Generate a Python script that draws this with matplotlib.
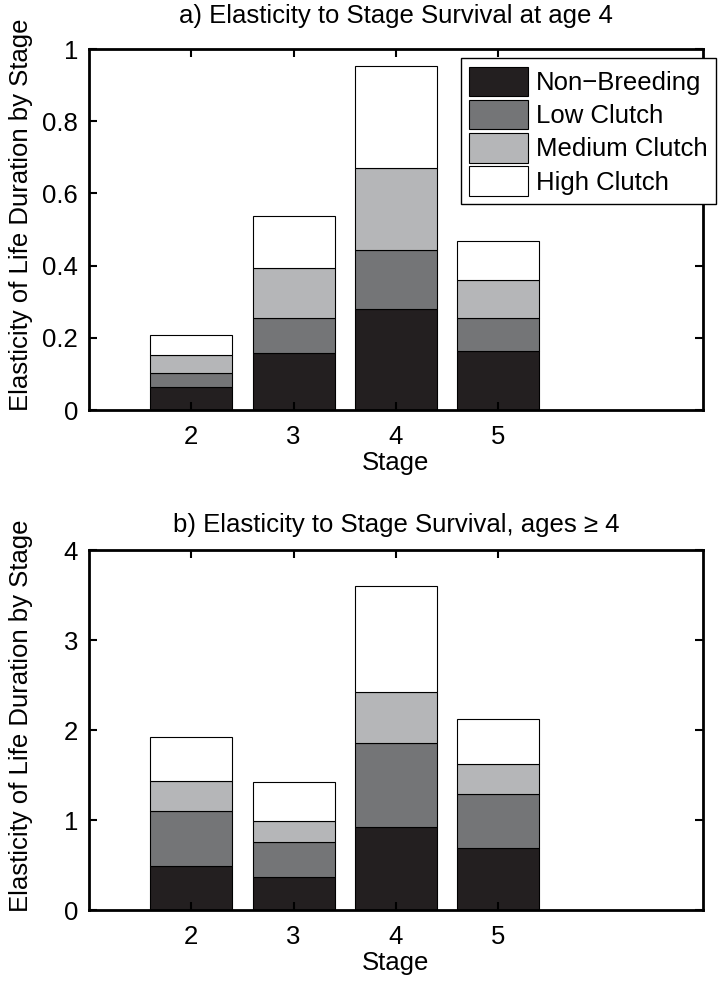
import numpy as np
import matplotlib
matplotlib.use("Agg")
import matplotlib.pyplot as plt

plt.rcParams['font.family'] = ['Liberation Sans', 'DejaVu Sans']

# data (segment heights, stacked bottom -> top)
stages = [2, 3, 4, 5]
series = ["Non\u2212Breeding", "Low Clutch", "Medium Clutch", "High Clutch"]
colors = ["#231f20", "#747577", "#b5b6b8", "#ffffff"]

a_nonbreed = [0.063, 0.157, 0.279, 0.164]
a_low = [0.039, 0.097, 0.164, 0.090]
a_med = [0.051, 0.138, 0.228, 0.107]
a_high = [0.054, 0.145, 0.283, 0.108]

b_nonbreed = [0.493, 0.370, 0.919, 0.685]
b_low = [0.611, 0.389, 0.937, 0.608]
b_med = [0.333, 0.234, 0.566, 0.329]
b_high = [0.485, 0.426, 1.174, 0.500]

title_a = "a) Elasticity to Stage Survival at age 4"
title_b = "b) Elasticity to Stage Survival, ages \u2265 4"
ylab = "Elasticity of Life Duration by Stage"

fs = 18.5
W, H = 728, 985
fig = plt.figure(figsize=(W / 100, H / 100), dpi=100)

ax_a = fig.add_axes([89 / W, 1 - 410 / H, 614 / W, 361 / H])
ax_b = fig.add_axes([89 / W, 1 - 910 / H, 614 / W, 360 / H])


def stacked(ax, parts):
    bottom = np.zeros(len(stages))
    for vals, c, name in zip(parts, colors, series):
        ax.bar(stages, vals, width=0.8, bottom=bottom, color=c,
               edgecolor="black", linewidth=0.8, label=name)
        bottom = bottom + np.array(vals)


def style(ax):
    ax.set_xlim(1, 7)
    ax.set_xticks(stages)
    ax.tick_params(direction="in", top=True, right=True, length=6,
                   width=1.5, labelsize=fs)
    ax.tick_params(axis="y", pad=8)
    ax.tick_params(axis="x", pad=11)
    for s in ax.spines.values():
        s.set_linewidth(2)
    ax.set_xlabel("Stage", fontsize=fs, labelpad=1)
    ax.set_ylabel(ylab, fontsize=fs)
    ax.yaxis.set_label_coords(-0.092, 0.54)


stacked(ax_a, [a_nonbreed, a_low, a_med, a_high])
style(ax_a)
ax_a.set_ylim(0, 1)
ax_a.set_yticks([0, 0.2, 0.4, 0.6, 0.8, 1])
ax_a.set_yticklabels(["0", "0.2", "0.4", "0.6", "0.8", "1"])
ax_a.set_title(title_a, fontsize=fs, pad=19)

leg = ax_a.legend(loc="upper right", bbox_to_anchor=(1.021, 0.975),
                  fontsize=fs, frameon=True, fancybox=False, borderaxespad=0,
                  handlelength=2.3, handleheight=1.4, handletextpad=0.3,
                  labelspacing=0.14, borderpad=0.33)
leg.get_frame().set_edgecolor("black")
leg.get_frame().set_linewidth(1)
leg.get_frame().set_alpha(1)

stacked(ax_b, [b_nonbreed, b_low, b_med, b_high])
style(ax_b)
ax_b.set_ylim(0, 4)
ax_b.set_yticks([0, 1, 2, 3, 4])
ax_b.set_title(title_b, fontsize=fs, pad=13)

fig.savefig("out.png", dpi=100)
